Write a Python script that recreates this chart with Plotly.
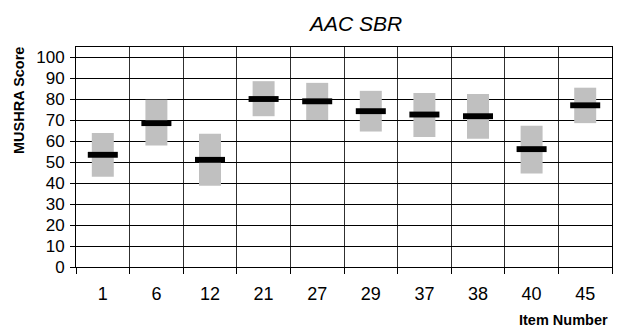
import plotly.graph_objects as go

items = ["1", "6", "12", "21", "27", "29", "37", "38", "40", "45"]
means = [53.5, 68.6, 51.1, 80.1, 79.0, 74.3, 72.7, 71.9, 56.2, 77.1]
ci_low = [43.0, 57.9, 38.7, 71.9, 70.1, 64.6, 62.0, 61.2, 44.6, 68.6]
ci_high = [63.9, 79.7, 63.5, 88.6, 87.8, 84.0, 83.0, 82.5, 67.4, 85.5]
y_ticks = [0, 10, 20, 30, 40, 50, 60, 70, 80, 90, 100]

mean_thick = 2.8

fig = go.Figure()
fig.add_trace(go.Bar(
    x=items, y=[h - l for h, l in zip(ci_high, ci_low)], base=ci_low,
    width=0.41, marker=dict(color="#c0c0c0", line=dict(width=0)),
    hoverinfo="skip", showlegend=False))
fig.add_trace(go.Bar(
    x=items, y=[mean_thick] * len(means), base=[m - mean_thick / 2 for m in means],
    width=0.56, marker=dict(color="#000000", line=dict(width=0)),
    hoverinfo="skip", showlegend=False))

fig.update_layout(
    width=624, height=332,
    margin=dict(l=76, r=12, t=47, b=65),
    barmode="overlay",
    plot_bgcolor="white", paper_bgcolor="white",
    font=dict(family="Liberation Sans, Arial, sans-serif", color="black"),
    title=dict(text="<i>AAC SBR</i>", x=356 / 624, xanchor="center",
               y=1 - 24 / 332, yanchor="middle",
               font=dict(size=21, color="black")),
    xaxis=dict(type="category", categoryorder="array", categoryarray=items,
               range=[-0.5, 9.5], tickson="boundaries", ticks="outside",
               ticklen=6, tickcolor="black", tickwidth=1,
               showgrid=True, gridcolor="#303030", gridwidth=1,
               showline=True, linecolor="black", linewidth=1, mirror=True,
               tickfont=dict(size=18), ticklabelstandoff=10, zeroline=False),
    yaxis=dict(range=[0, 104.9], tickvals=y_ticks, ticks="outside", ticklen=5,
               tickcolor="black", showgrid=True, gridcolor="black", gridwidth=1,
               showline=True, linecolor="black", linewidth=1, mirror=True,
               tickfont=dict(size=17), zeroline=False, ticklabelstandoff=2),
    annotations=[
        dict(text="<b>MUSHRA Score</b>", textangle=-90, x=19, y=101,
             xref="paper", yref="paper", showarrow=False,
             font=dict(size=14.5)),
        dict(text="<b>Item Number</b>", x=610 / 624, y=1 - 320 / 332,
             xref="paper", yref="paper", xanchor="right", yanchor="middle",
             showarrow=False, font=dict(size=14.5)),
    ],
)
# position y title in pixel terms via paper fractions
plot_w = 624 - 76 - 12
plot_h = 332 - 47 - 65
fig.layout.annotations[0].x = (19 - 76) / plot_w
fig.layout.annotations[0].y = (332 - 65 - 101) / plot_h
fig.layout.annotations[0].xanchor = "center"
fig.layout.annotations[0].yanchor = "middle"
fig.layout.annotations[1].x = (610 - 76) / plot_w
fig.layout.annotations[1].y = (332 - 65 - 320) / plot_h

fig.write_html("out.html")
